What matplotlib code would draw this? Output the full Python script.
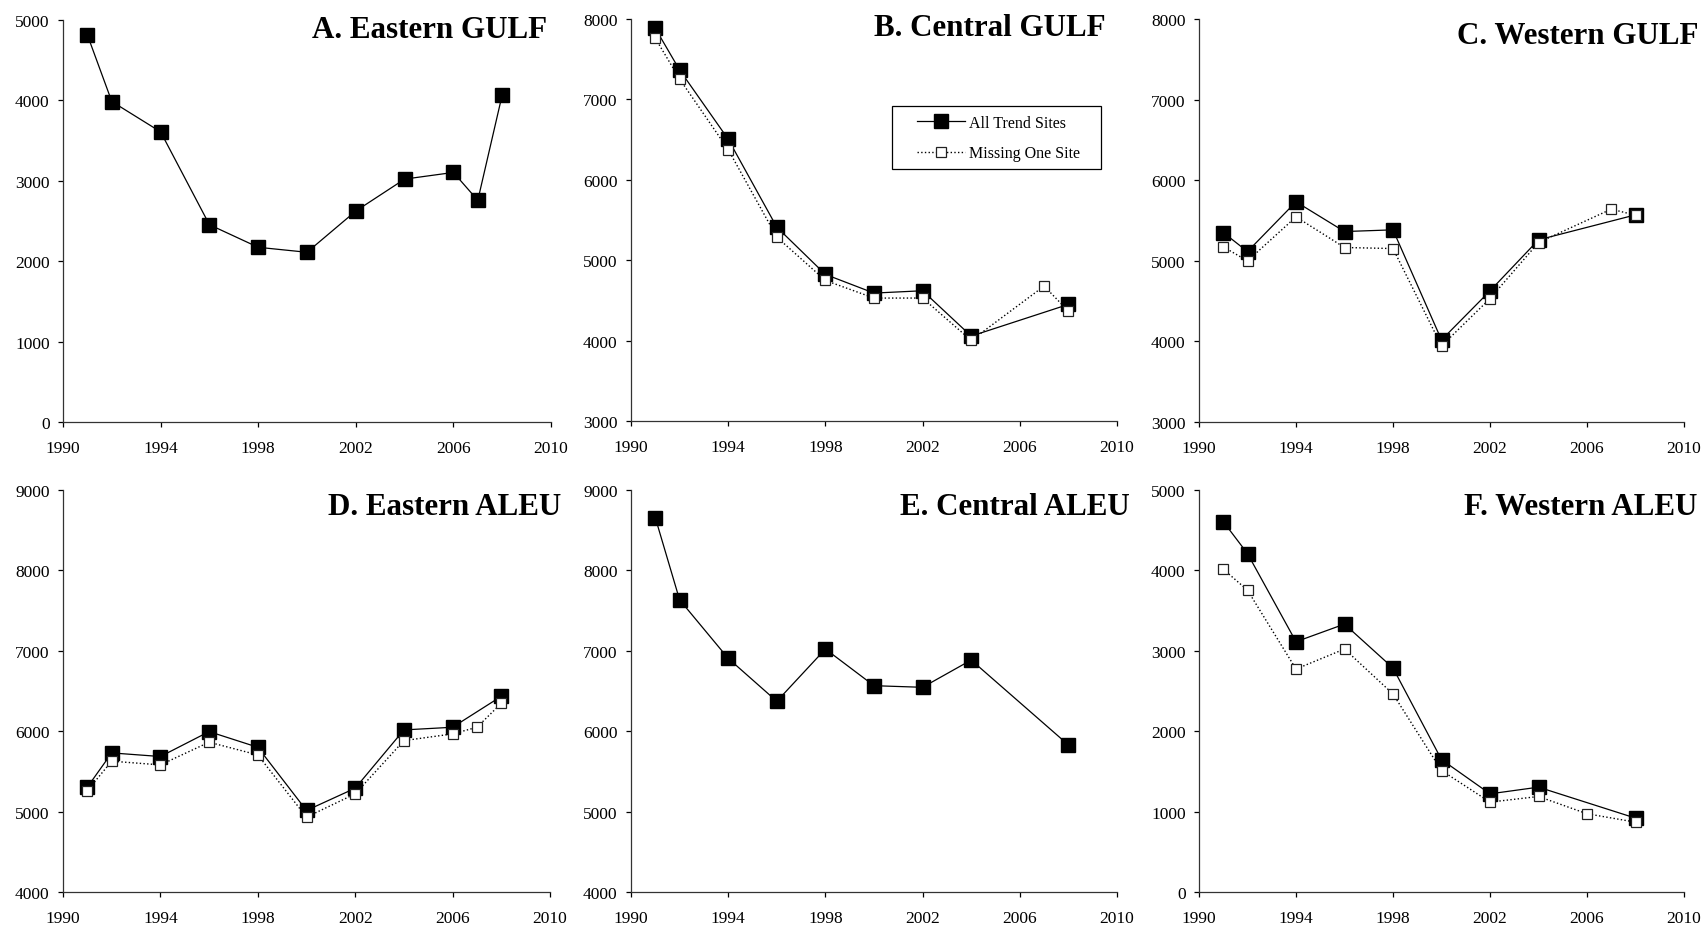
import matplotlib
matplotlib.use("Agg")
import matplotlib.pyplot as plt
from matplotlib.patches import Rectangle

# ── Data ──────────────────────────────────────────────────────────
PANEL_TITLES = ["A. Eastern GULF", "B. Central GULF", "C. Western GULF",
                "D. Eastern ALEU", "E. Central ALEU", "F. Western ALEU"]

# All trend sites (filled squares) / missing one site (open squares)
A_years = [1991, 1992, 1994, 1996, 1998, 2000, 2002, 2004, 2006, 2007, 2008]
A_all = [4814, 3986, 3609, 2454, 2173, 2111, 2624, 3021, 3104, 2757, 4069]

B_years = [1991, 1992, 1994, 1996, 1998, 2000, 2002, 2004, 2008]
B_all = [7884, 7366, 6505, 5411, 4823, 4591, 4620, 4056, 4450]
B_miss_years = [1991, 1992, 1994, 1996, 1998, 2000, 2002, 2004, 2007, 2008]
B_miss = [7760, 7254, 6376, 5287, 4748, 4529, 4529, 4002, 4678, 4367]

C_years = [1991, 1992, 1994, 1996, 1998, 2000, 2002, 2004, 2008]
C_all = [5351, 5115, 5732, 5363, 5384, 4018, 4627, 5260, 5570]
C_miss_years = [1991, 1992, 1994, 1996, 1998, 2000, 2002, 2004, 2007, 2008]
C_miss = [5173, 4999, 5545, 5165, 5152, 3944, 4531, 5227, 5641, 5566]

D_years = [1991, 1992, 1994, 1996, 1998, 2000, 2002, 2004, 2006, 2008]
D_all = [5304, 5730, 5685, 5995, 5800, 5014, 5291, 6016, 6049, 6434]
D_miss_years = [1991, 1992, 1994, 1996, 1998, 2000, 2002, 2004, 2006, 2007, 2008]
D_miss = [5262, 5627, 5581, 5863, 5705, 4931, 5221, 5883, 5966, 6049, 6347]

E_years = [1991, 1992, 1994, 1996, 1998, 2000, 2002, 2004, 2008]
E_all = [8656, 7634, 6906, 6372, 7022, 6566, 6546, 6885, 5829]

F_years = [1991, 1992, 1994, 1996, 1998, 2000, 2002, 2004, 2008]
F_all = [4607, 4209, 3113, 3332, 2786, 1647, 1221, 1304, 919]
F_miss_years = [1991, 1992, 1994, 1996, 1998, 2000, 2002, 2004, 2006, 2008]
F_miss = [4015, 3754, 2773, 3022, 2463, 1511, 1118, 1188, 973, 869]

Y_LIMITS = [(0, 5000), (3000, 8000), (3000, 8000),
            (4000, 9000), (4000, 9000), (0, 5000)]
X_TICKS = [1990, 1994, 1998, 2002, 2006, 2010]

series = [
    (A_years, A_all, None, None),
    (B_years, B_all, B_miss_years, B_miss),
    (C_years, C_all, C_miss_years, C_miss),
    (D_years, D_all, D_miss_years, D_miss),
    (E_years, E_all, None, None),
    (F_years, F_all, F_miss_years, F_miss),
]

# ── Layout (pixel boxes in the 1705x929 figure) ───────────────────
W, H = 1705, 929
BOXES = [(63, 21, 551, 423), (631, 20, 1117, 422), (1199, 20, 1684, 423),
         (63, 491, 550, 893), (631, 491, 1117, 893), (1199, 491, 1684, 893)]
TITLE_POS = [(0.992, 0.958), (0.977, 0.960), (1.029, 0.940),
             (1.023, 0.940), (1.027, 0.940), (1.027, 0.940)]

plt.rcParams["font.family"] = ["Liberation Serif", "DejaVu Serif"]

fig = plt.figure(figsize=(W / 100, H / 100), dpi=100)

for i, (yrs, vals, myrs, mvals) in enumerate(series):
    x0, y0, x1, y1 = BOXES[i]
    ax = fig.add_axes([x0 / W, 1 - y1 / H, (x1 - x0) / W, (y1 - y0) / H])

    ax.plot(yrs, vals, color="black", linewidth=0.9, marker="s",
            markersize=10, markerfacecolor="black",
            markeredgecolor="black", label="All Trend Sites", zorder=3)
    if myrs is not None:
        ax.plot(myrs, mvals, color="black", linewidth=1.0, linestyle=":",
                marker="s", markersize=7.5, markerfacecolor="white",
                markeredgecolor="#222222", markeredgewidth=0.9,
                label="Missing One Site", zorder=4)

    ax.set_xlim(1990, 2010)
    ax.set_ylim(*Y_LIMITS[i])
    ax.set_xticks(X_TICKS)
    ax.set_yticks(range(Y_LIMITS[i][0], Y_LIMITS[i][1] + 1, 1000))
    ax.tick_params(direction="out", length=3.6, width=0.9,
                   labelsize=12.5, colors="black")
    ax.tick_params(axis="x", pad=9.5)
    ax.tick_params(axis="y", pad=6)
    for s in ["top", "right"]:
        ax.spines[s].set_visible(False)
    for s in ["left", "bottom"]:
        ax.spines[s].set_linewidth(0.9)
        ax.spines[s].set_color("#333333")

    tx, ty = TITLE_POS[i]
    ax.text(tx, ty, PANEL_TITLES[i], transform=ax.transAxes,
            ha="right", va="baseline", fontsize=22.3, fontweight="bold")

    if i == 1:
        # legend box drawn by hand so the side padding can exceed the top one
        ax.add_patch(Rectangle((0.537, 0.627), 0.430, 0.157,
                               transform=ax.transAxes, fill=True,
                               facecolor="white", edgecolor="black",
                               linewidth=0.9, zorder=5))
        leg = ax.legend(loc="upper left", bbox_to_anchor=(0.588, 0.762),
                        fontsize=11.5, frameon=False,
                        borderpad=0, labelspacing=0.92,
                        handlelength=3.0, handletextpad=0.3,
                        borderaxespad=0)
        leg.set_zorder(6)

plt.savefig("out.png", dpi=100)
plt.close()
